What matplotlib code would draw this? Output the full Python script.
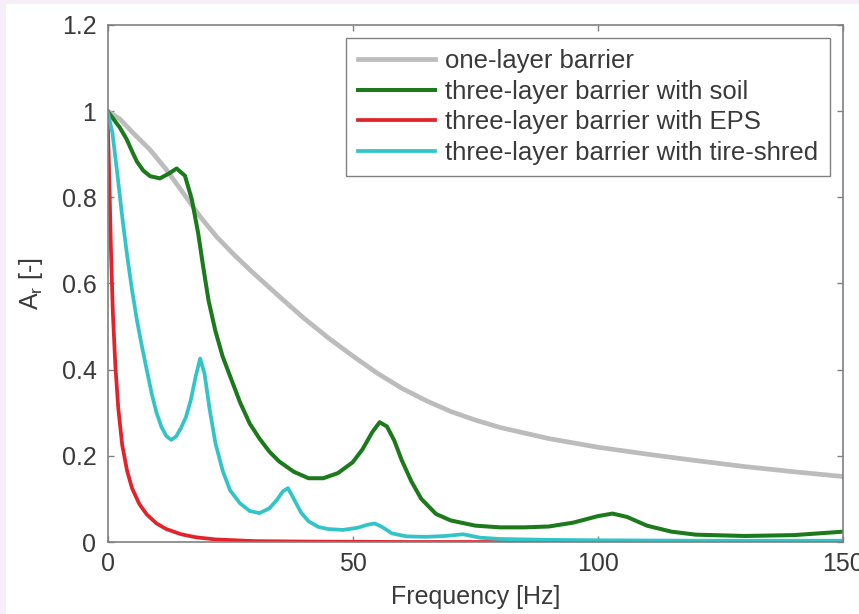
import numpy as np
import matplotlib
matplotlib.use("Agg")
from matplotlib import pyplot as plt
from matplotlib.patches import Rectangle

# one-layer barrier
freq_one = [0, 2.5, 5, 8.7, 12.1, 15.5, 18.9, 22.3, 25.7, 29.1, 32.5, 36, 40, 45,
            50, 55, 60, 65, 70, 75, 80, 90, 100, 110, 120, 130, 140, 150]
amp_one = [1.0, 0.982, 0.952, 0.91, 0.863, 0.809, 0.755, 0.708, 0.668, 0.631,
           0.596, 0.56, 0.52, 0.474, 0.432, 0.392, 0.357, 0.328, 0.303, 0.283,
           0.266, 0.24, 0.22, 0.204, 0.189, 0.175, 0.163, 0.152]

# three-layer barrier with soil
freq_soil = [0, 1.2, 2.5, 3.9, 5, 6, 7.3, 8.7, 10.7, 12.5, 14.1, 15.8, 17.2, 18.5,
             19.5, 20.6, 22, 23.5, 25, 27, 29, 31, 33, 35, 38, 41, 44, 47, 50, 52,
             54, 55.5, 57, 58.5, 60, 62, 64, 67, 70, 75, 80, 85, 90, 95, 100, 103,
             106, 110, 115, 120, 130, 140, 150]
amp_soil = [1.0, 0.982, 0.962, 0.935, 0.907, 0.883, 0.862, 0.849, 0.844, 0.855,
            0.867, 0.85, 0.795, 0.716, 0.64, 0.561, 0.49, 0.43, 0.385, 0.325,
            0.275, 0.24, 0.21, 0.187, 0.163, 0.148, 0.148, 0.16, 0.185, 0.215,
            0.255, 0.278, 0.268, 0.235, 0.19, 0.14, 0.10, 0.065, 0.05, 0.038,
            0.034, 0.034, 0.036, 0.045, 0.06, 0.066, 0.058, 0.038, 0.024, 0.017,
            0.014, 0.016, 0.024]

# three-layer barrier with EPS
freq_eps = [0, 0.3, 0.7, 1.1, 1.6, 2.2, 3, 4, 5, 6.5, 8, 10, 12, 15, 18, 22, 26,
            30, 40, 60, 100, 150]
amp_eps = [1.0, 0.87, 0.68, 0.53, 0.41, 0.31, 0.225, 0.165, 0.125, 0.088, 0.064,
           0.043, 0.03, 0.018, 0.011, 0.006, 0.004, 0.002, 0.001, 0.0, 0.0, 0.0]

# three-layer barrier with tire-shred
freq_tire = [0, 1, 2, 3, 4, 5, 6, 7, 8, 9, 10, 11, 12, 13, 14, 15, 16, 17, 18,
             18.9, 19.8, 20.8, 22, 23.5, 25, 27, 29, 31, 33, 34.5, 35.8, 36.8,
             38, 39.5, 41, 43, 45, 48, 51, 53, 54.5, 56, 58, 61, 65, 69, 72.5,
             76, 80, 90, 100, 120, 150]
amp_tire = [1.0, 0.95, 0.855, 0.755, 0.665, 0.585, 0.515, 0.455, 0.40, 0.345,
            0.30, 0.267, 0.246, 0.237, 0.245, 0.265, 0.29, 0.33, 0.385, 0.426,
            0.39, 0.31, 0.23, 0.165, 0.12, 0.09, 0.072, 0.067, 0.078, 0.097,
            0.118, 0.125, 0.10, 0.068, 0.048, 0.035, 0.03, 0.028, 0.033, 0.04,
            0.043, 0.035, 0.02, 0.013, 0.012, 0.014, 0.018, 0.01, 0.007, 0.005,
            0.004, 0.003, 0.003]

labels = ["one-layer barrier", "three-layer barrier with soil",
          "three-layer barrier with EPS", "three-layer barrier with tire-shred"]

plt.rcParams["font.family"] = ["Liberation Sans", "DejaVu Sans"]
txt = "#3a3a3a"

fig = plt.figure(figsize=(8.59, 6.14), dpi=100, facecolor="#f6eef8")
fig.patches.append(Rectangle((6 / 859, 0), 1, 1 - 4 / 614, transform=fig.transFigure,
                             facecolor="white", edgecolor="none", zorder=-5))
ax = fig.add_axes([107.5 / 859, 1 - 542 / 614, 735.5 / 859, 517 / 614])
ax.set_zorder(1)

ax.plot(freq_one, amp_one, color="#bcbcbc", lw=3.4, label=labels[0])
ax.plot(freq_soil, amp_soil, color="#1c7a1c", lw=2.9, label=labels[1])
ax.plot(freq_eps, amp_eps, color="#e2232c", lw=2.7, label=labels[2])
ax.plot(freq_tire, amp_tire, color="#33c4c8", lw=2.7, label=labels[3])

ax.set_xlim(0, 150)
ax.set_ylim(0, 1.2)
ax.set_xticks([0, 50, 100, 150])
ax.set_yticks([0, 0.2, 0.4, 0.6, 0.8, 1.0, 1.2])
ax.set_yticklabels(["0", "0.2", "0.4", "0.6", "0.8", "1", "1.2"])
ax.tick_params(direction="in", length=4, width=1, color="#808080",
               labelsize=18, labelcolor=txt, top=True, right=True)
ax.tick_params(axis="x", pad=7)
ax.tick_params(axis="y", pad=8)
for s in ax.spines.values():
    s.set_color("#808080")
    s.set_linewidth(1.2)

ax.set_xlabel("Frequency [Hz]", fontsize=18, color=txt, labelpad=7)
ax.set_ylabel(r"A$_\mathregular{r}$ [-]", fontsize=18, color=txt, labelpad=12)

leg = ax.legend(loc="upper right", bbox_to_anchor=(0.982, 0.975), borderaxespad=0,
                fontsize=18.5, handlelength=3.0, labelspacing=0.25, fancybox=False,
                framealpha=1, edgecolor="#808080", borderpad=0.45, handletextpad=0.4)
leg.get_frame().set_linewidth(1.0)
for t in leg.get_texts():
    t.set_color(txt)

fig.savefig("out.png", dpi=100, facecolor=fig.get_facecolor())
